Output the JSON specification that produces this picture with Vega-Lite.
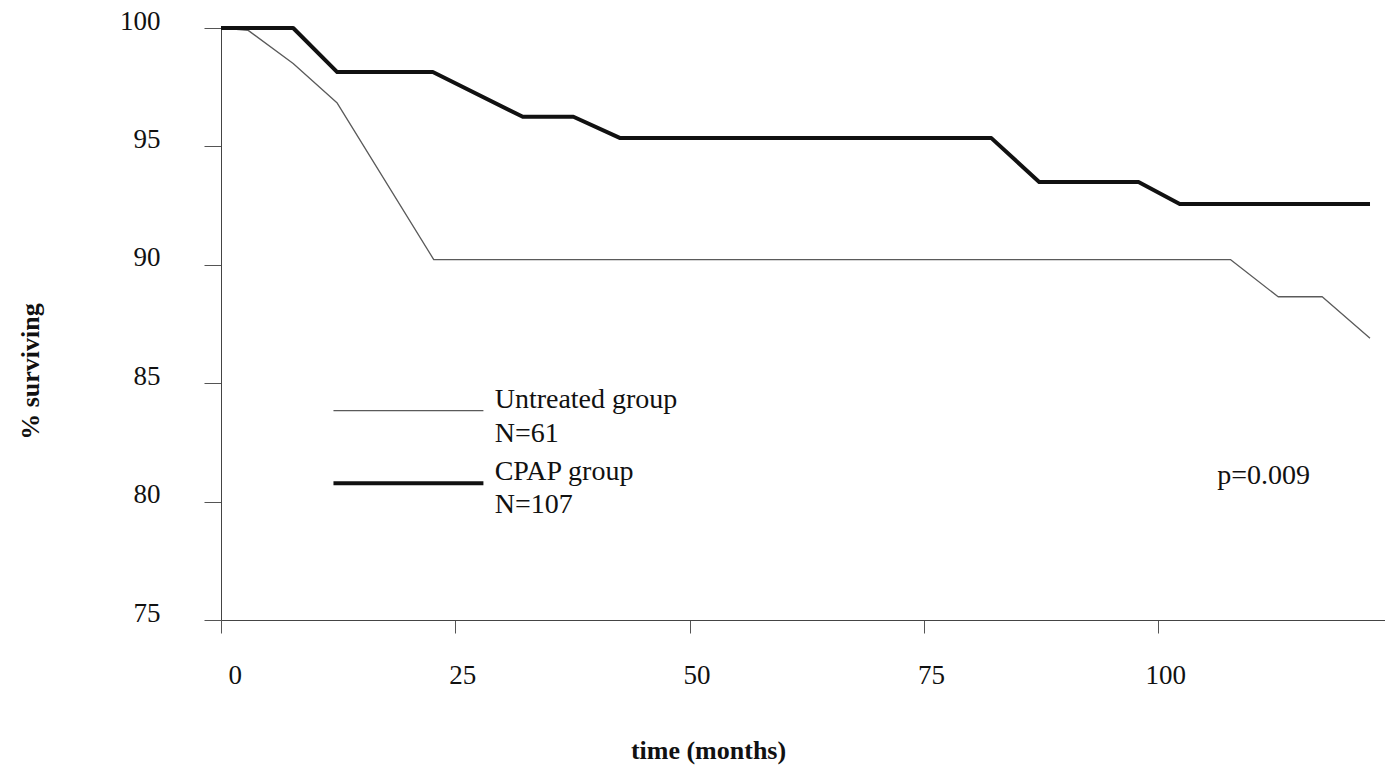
{
  "$schema": "https://vega.github.io/schema/vega-lite/v6.json",
  "width": 1164,
  "height": 592,
  "autosize": {"type": "none"},
  "padding": {"left": 221, "top": 28, "right": 0, "bottom": 148},
  "background": "white",
  "config": {"view": {"stroke": null}, "font": "Liberation Serif"},
  "datasets": {
    "curves": [
      {"series": "Untreated", "month": 0, "pct": 100},
      {"series": "Untreated", "month": 2.9, "pct": 99.9},
      {"series": "Untreated", "month": 7.7, "pct": 98.5},
      {"series": "Untreated", "month": 12.4, "pct": 96.83},
      {"series": "Untreated", "month": 22.7, "pct": 90.22},
      {"series": "Untreated", "month": 107.7, "pct": 90.22},
      {"series": "Untreated", "month": 112.8, "pct": 88.65},
      {"series": "Untreated", "month": 117.5, "pct": 88.65},
      {"series": "Untreated", "month": 122.6, "pct": 86.9},
      {"series": "CPAP", "month": 0, "pct": 100},
      {"series": "CPAP", "month": 7.7, "pct": 100},
      {"series": "CPAP", "month": 12.4, "pct": 98.14},
      {"series": "CPAP", "month": 22.6, "pct": 98.14},
      {"series": "CPAP", "month": 32.2, "pct": 96.25},
      {"series": "CPAP", "month": 37.6, "pct": 96.25},
      {"series": "CPAP", "month": 42.6, "pct": 95.35},
      {"series": "CPAP", "month": 82.2, "pct": 95.35},
      {"series": "CPAP", "month": 87.3, "pct": 93.5},
      {"series": "CPAP", "month": 97.9, "pct": 93.5},
      {"series": "CPAP", "month": 102.3, "pct": 92.57},
      {"series": "CPAP", "month": 122.6, "pct": 92.57}
    ],
    "keylines": [
      {"series": "Untreated", "month": 12.0, "pct": 83.84},
      {"series": "Untreated", "month": 28.0, "pct": 83.84},
      {"series": "CPAP", "month": 12.0, "pct": 80.77},
      {"series": "CPAP", "month": 28.0, "pct": 80.77}
    ],
    "notes": [
      {"label": "Untreated group", "month": 29.2, "pct": 83.95},
      {"label": "N=61", "month": 29.2, "pct": 82.52},
      {"label": "CPAP group", "month": 29.2, "pct": 80.91},
      {"label": "N=107", "month": 29.2, "pct": 79.52},
      {"label": "p=0.009", "month": 106.3, "pct": 80.75}
    ]
  },
  "layer": [
    {
      "data": {"name": "curves"},
      "mark": {"type": "line", "strokeJoin": "round"},
      "encoding": {
        "x": {
          "field": "month", "type": "quantitative",
          "scale": {"domain": [0, 124.2], "nice": false, "zero": false},
          "axis": {
            "values": [0, 25, 50, 75, 100],
            "grid": false,
            "tickSize": 13,
            "tickColor": "#555",
            "tickWidth": 1,
            "domainColor": "#444",
            "domainWidth": 1,
            "labelFont": "Liberation Serif",
            "labelFontSize": 27,
            "labelColor": "#111",
            "labelPadding": 29,
            "labelOffset": 7,
            "title": "time (months)",
            "titleFont": "Liberation Serif",
            "titleFontSize": 26,
            "titleFontWeight": "bold",
            "titleColor": "#111",
            "titleX": 487,
            "titleY": 138,
            "titleAlign": "center",
            "titleBaseline": "alphabetic"
          }
        },
        "y": {
          "field": "pct", "type": "quantitative",
          "scale": {"domain": [75, 100], "nice": false, "zero": false},
          "axis": {
            "values": [75, 80, 85, 90, 95, 100],
            "grid": false,
            "tickSize": 17,
            "tickColor": "#555",
            "tickWidth": 1,
            "domainColor": "#444",
            "domainWidth": 1,
            "labelFont": "Liberation Serif",
            "labelFontSize": 27,
            "labelColor": "#111",
            "labelPadding": 44,
            "labelOffset": -7,
            "title": "% surviving",
            "titleFont": "Liberation Serif",
            "titleFontSize": 26,
            "titleFontWeight": "bold",
            "titleColor": "#111",
            "titleAngle": -90,
            "titleX": -191,
            "titleY": 343,
            "titleAlign": "center",
            "titleBaseline": "middle"
          }
        },
        "detail": {"field": "series"},
        "color": {"field": "series", "type": "nominal", "scale": {"domain": ["Untreated", "CPAP"], "range": ["#5a5a5a", "#111111"]}, "legend": null},
        "strokeWidth": {"field": "series", "type": "nominal", "scale": {"domain": ["Untreated", "CPAP"], "range": [1.3, 4]}, "legend": null}
      }
    },
    {
      "data": {"name": "keylines"},
      "mark": {"type": "line"},
      "encoding": {
        "x": {"field": "month", "type": "quantitative"},
        "y": {"field": "pct", "type": "quantitative"},
        "detail": {"field": "series"},
        "color": {"field": "series", "type": "nominal", "legend": null},
        "strokeWidth": {"field": "series", "type": "nominal", "legend": null}
      }
    },
    {
      "data": {"name": "notes"},
      "mark": {"type": "text", "align": "left", "baseline": "alphabetic", "font": "Liberation Serif", "fontSize": 28, "color": "#111"},
      "encoding": {
        "x": {"field": "month", "type": "quantitative"},
        "y": {"field": "pct", "type": "quantitative"},
        "text": {"field": "label"}
      }
    }
  ]
}
